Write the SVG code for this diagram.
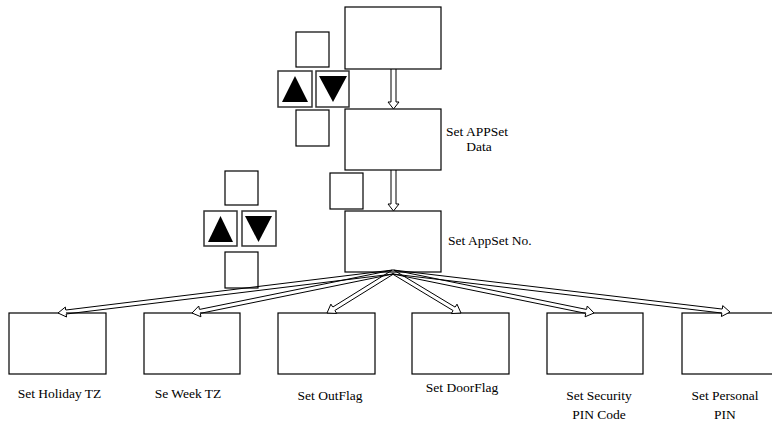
<svg xmlns="http://www.w3.org/2000/svg" width="772" height="421" viewBox="0 0 772 421">
<style>
.box{fill:#fff;stroke:#000;stroke-width:1.2}
.btn{fill:#fff;stroke:#333;stroke-width:1.5}
.tri{fill:#000}
.shaft{fill:none;stroke:#000;stroke-width:1}
.head{fill:#fff;stroke:#000;stroke-width:1;stroke-linejoin:miter}
text{font-family:"Liberation Serif","Times New Roman",serif;font-size:13.5px;fill:#000}
</style>
<rect width="772" height="421" fill="#fff"/>
<g id="top">
<rect class="box" x="345" y="7" width="96" height="62"/>
</g>
<g id="appset-data">
<rect class="box" x="345" y="109" width="96" height="61"/>
<text x="477" y="136" text-anchor="middle">Set APPSet</text>
<text x="479" y="151" text-anchor="middle">Data</text>
</g>
<g id="appset-no">
<rect class="box" x="345" y="211" width="96" height="61"/>
<text x="448" y="245">Set AppSet No.</text>
</g>
<g id="keys-upper">
<rect class="box" x="296" y="32" width="33" height="35"/>
<rect class="btn" x="278" y="71" width="34" height="36"/>
<polygon class="tri" points="295,76 308,102 282,102"/>
<rect class="btn" x="316" y="71" width="33" height="36"/>
<polygon class="tri" points="319,76 347,76 333,102"/>
<rect class="box" x="296" y="110" width="33" height="36"/>
</g>
<g id="key-mid">
<rect class="box" x="330" y="173" width="33" height="36"/>
</g>
<g id="keys-lower">
<rect class="box" x="225" y="171" width="33" height="34"/>
<rect class="btn" x="204" y="211" width="33" height="35"/>
<polygon class="tri" points="220.5,216 233,242 208,242"/>
<rect class="btn" x="242" y="211" width="34" height="35"/>
<polygon class="tri" points="245,216 272,216 258.5,242"/>
<rect class="box" x="225" y="252" width="33" height="36"/>
</g>
<g id="holiday">
<rect class="box" x="9" y="313" width="97" height="61"/>
<text x="59.5" y="398" text-anchor="middle">Set Holiday TZ</text>
</g>
<g id="week">
<rect class="box" x="144" y="313" width="96" height="61"/>
<text x="188" y="398" text-anchor="middle">Se Week TZ</text>
</g>
<g id="outflag">
<rect class="box" x="278" y="313" width="97" height="61"/>
<text x="330" y="400" text-anchor="middle">Set OutFlag</text>
</g>
<g id="doorflag">
<rect class="box" x="412" y="313" width="97" height="61"/>
<text x="462" y="392" text-anchor="middle">Set DoorFlag</text>
</g>
<g id="security">
<rect class="box" x="547" y="313" width="96" height="61"/>
<text x="599" y="400" text-anchor="middle">Set Security</text>
<text x="599" y="419" text-anchor="middle">PIN Code</text>
</g>
<g id="personal">
<rect class="box" x="682" y="313" width="100" height="61"/>
<text x="725" y="400" text-anchor="middle">Set Personal</text>
<text x="725" y="419" text-anchor="middle">PIN</text>
</g>
<g id="connectors">
<path class="shaft" d="M391,69 V102 M396,69 V102"/>
<path class="head" d="M391,102 H388 L393.5,109 L399,102 H396"/>
<path class="shaft" d="M391,170 V204 M396,170 V204"/>
<path class="head" d="M391,204 H388 L393.5,211 L399,204 H396"/>
<path class="shaft" d="M392.76,270.01 L65.70,310.04 M393.24,273.99 L66.18,314.01"/>
<path class="head" d="M65.70,310.04 L65.33,307.07 L58,313 L66.55,316.99 L66.18,314.01"/>
<path class="shaft" d="M392.60,270.04 L199.44,309.44 M393.40,273.96 L200.24,313.36"/>
<path class="head" d="M199.44,309.44 L198.74,306.01 L192,313 L200.94,316.79 L200.24,313.36"/>
<path class="shaft" d="M391.95,270.30 L332.74,307.08 M394.05,273.70 L334.85,310.48"/>
<path class="head" d="M332.74,307.08 L330.89,304.11 L327,313 L336.70,313.45 L334.85,310.48"/>
<path class="shaft" d="M391.97,273.71 L453.12,310.58 M394.03,270.29 L455.18,307.16"/>
<path class="head" d="M453.12,310.58 L451.31,313.58 L461,313 L456.99,304.16 L455.18,307.16"/>
<path class="shaft" d="M392.60,273.96 L585.76,313.36 M393.40,270.04 L586.56,309.44"/>
<path class="head" d="M585.76,313.36 L585.06,316.79 L594,313 L587.26,306.01 L586.56,309.44"/>
<path class="shaft" d="M392.76,273.99 L721.82,313.04 M393.24,270.01 L722.29,309.07"/>
<path class="head" d="M721.82,313.04 L721.41,316.52 L730,312 L722.71,305.60 L722.29,309.07"/>
</g>
</svg>
